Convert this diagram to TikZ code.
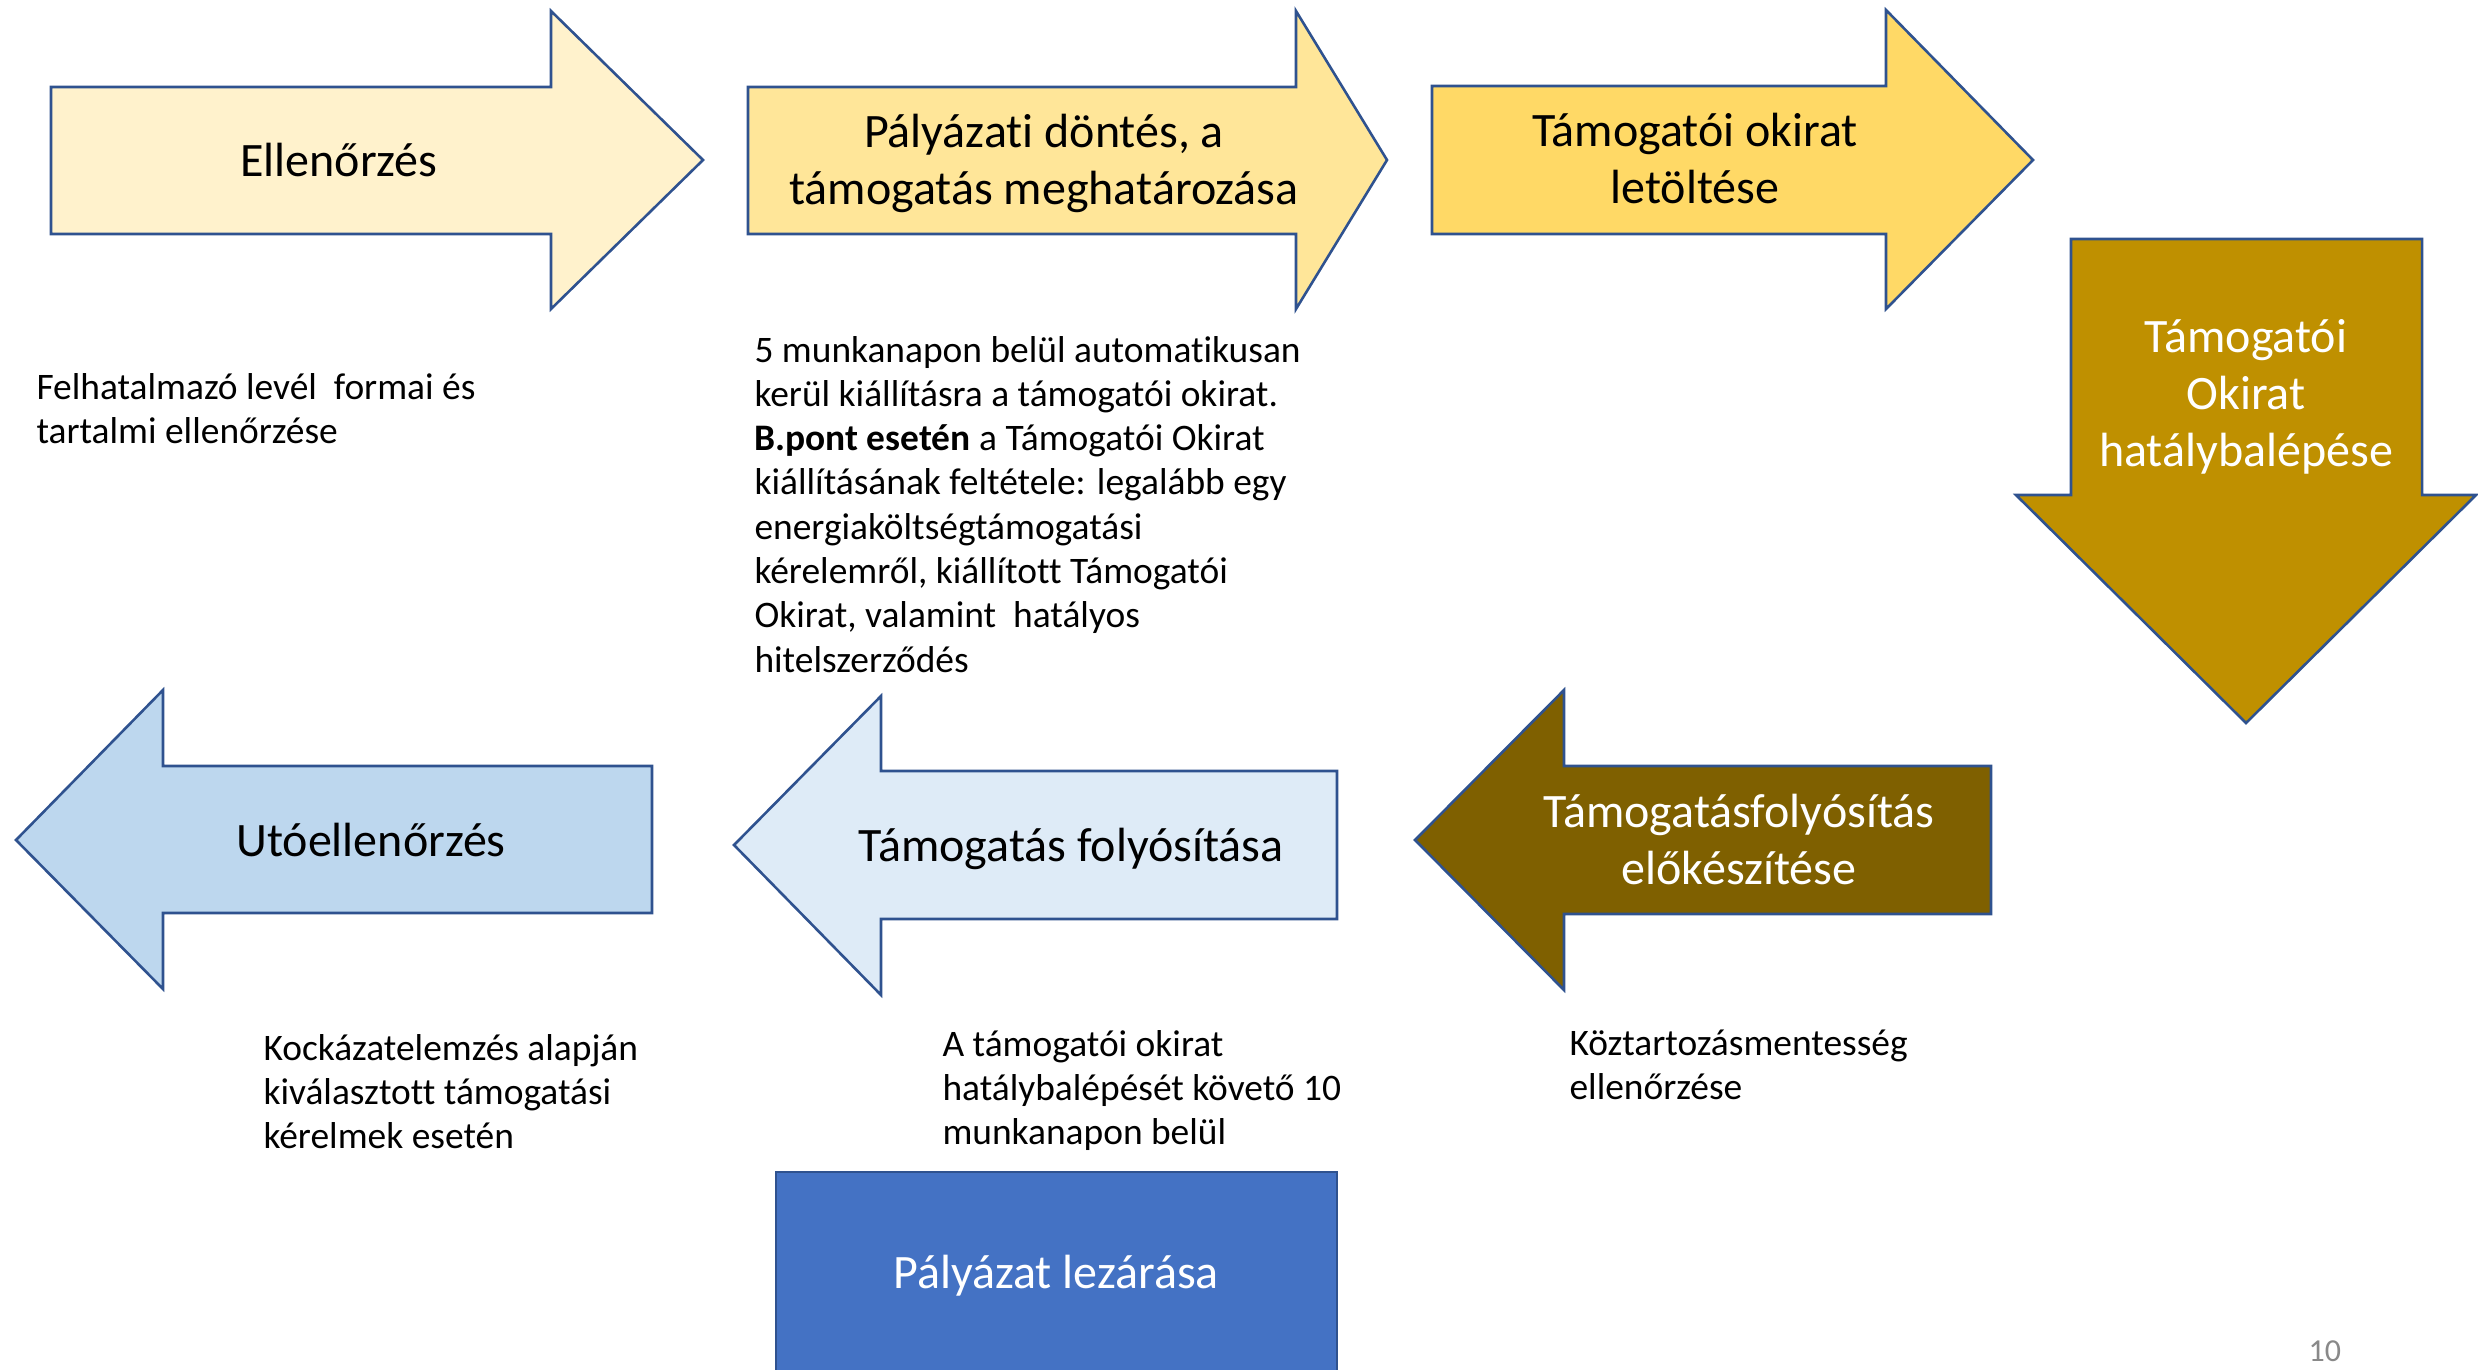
\documentclass[tikz,border=0pt]{standalone}
\usepackage{fontspec}
\setmainfont[Ligatures=NoCommon]{Carlito}
\definecolor{outl}{HTML}{2F528F}
\definecolor{ca}{HTML}{FFF2CC}
\definecolor{cb}{HTML}{FFE699}
\definecolor{cc}{HTML}{FFD966}
\definecolor{cdown}{HTML}{BF9000}
\definecolor{cdark}{HTML}{7F6000}
\definecolor{clight}{HTML}{DEEBF7}
\definecolor{cmid}{HTML}{BDD7EE}
\definecolor{cbox}{HTML}{4472C4}
\definecolor{pgray}{HTML}{898989}
\newcommand\mylines[2][c]{\begin{tabular}[t]{@{}#1@{}}#2\end{tabular}}
\tikzset{
  shp/.style={draw=outl, line width=1pt, line join=miter},
  lbl/.style={inner sep=0pt, font=\fontsize{18.6}{22.2}\selectfont, anchor=base},
  body/.style={inner sep=0pt, font=\fontsize{14.5}{17.16}\selectfont, anchor=base west},
  pnum/.style={inner sep=0pt, font=\fontsize{12.4}{14}\selectfont, text=pgray, anchor=base west}
}
\begin{document}
\begin{tikzpicture}[x=0.38741pt,y=-0.38741pt]
\useasboundingbox (0,0) rectangle (2478,1369);
\clip (0,0) rectangle (2478,1369);
% top row
\draw[shp, fill=ca] (51,87) -- (551,87) -- (551,11) -- (703,160) -- (551,309) -- (551,234) -- (51,234) -- cycle;
\draw[shp, fill=cb] (748,87) -- (1296,87) -- (1296,11) -- (1387,160) -- (1296,309) -- (1296,234) -- (748,234) -- cycle;
\draw[shp, fill=cc] (1432,86) -- (1886,86) -- (1886,10) -- (2033,160) -- (1886,309) -- (1886,234) -- (1432,234) -- cycle;
% down arrow
\draw[shp, fill=cdown] (2071,239) -- (2422,239) -- (2422,495) -- (2476,495) -- (2246,723) -- (2016,495) -- (2071,495) -- cycle;
% bottom row
\draw[shp, fill=cmid] (16,840) -- (163,690) -- (163,766) -- (652,766) -- (652,913) -- (163,913) -- (163,989) -- cycle;
\draw[shp, fill=clight] (734,845) -- (881,696) -- (881,771) -- (1337,771) -- (1337,919) -- (881,919) -- (881,995) -- cycle;
\draw[shp, fill=cdark] (1415,840) -- (1564,690) -- (1564,766) -- (1991,766) -- (1991,914) -- (1564,914) -- (1564,990) -- cycle;
% closing box
\draw[shp, fill=cbox] (776,1172) rectangle (1337,1400);

% labels
\node[lbl] (t1) at (339,176) {Ellenőrzés};
\node[lbl] (t2) at (1044,147) {\mylines{Pályázati döntés, a\\támogatás meghatározása}};
\node[lbl] (t3) at (1695,146) {\mylines{Támogatói okirat\\letöltése}};
\node[lbl, text=white] (t4) at (2246,352) {\mylines{Támogatói\\Okirat\\hatálybalépése}};
\node[lbl] (t5) at (371,856) {Utóellenőrzés};
\node[lbl] (t6) at (1071,861) {Támogatás folyósítása};
\node[lbl, text=white] (t7) at (1739,827) {\mylines{Támogatásfolyósítás\\előkészítése}};
\node[lbl, text=white] (t8) at (1056,1288) {Pályázat lezárása};

% descriptions
\node[body] (d1) at (36,399) {\mylines[l]{Felhatalmazó levél~ formai és\\tartalmi ellenőrzése}};
\node[body] (d2) at (754,362) {\mylines[l]{5 munkanapon belül automatikusan\\kerül kiállításra a támogatói okirat.\\\textbf{B.pont esetén} a Támogatói Okirat\\kiállításának feltétele: legalább egy\\energiaköltségtámogatási\\kérelemről, kiállított Támogatói\\Okirat, valamint~ hatályos\\hitelszerződés}};
\node[body] (d3) at (263,1060) {\mylines[l]{Kockázatelemzés alapján\\kiválasztott támogatási\\kérelmek esetén}};
\node[body] (d4) at (942,1056) {\mylines[l]{A támogatói okirat\\hatálybalépését követő 10\\munkanapon belül}};
\node[body] (d5) at (1569,1055) {\mylines[l]{Köztartozásmentesség\\ellenőrzése}};
\node[pnum] (pn) at (2308,1361) {10};
\end{tikzpicture}
\end{document}
